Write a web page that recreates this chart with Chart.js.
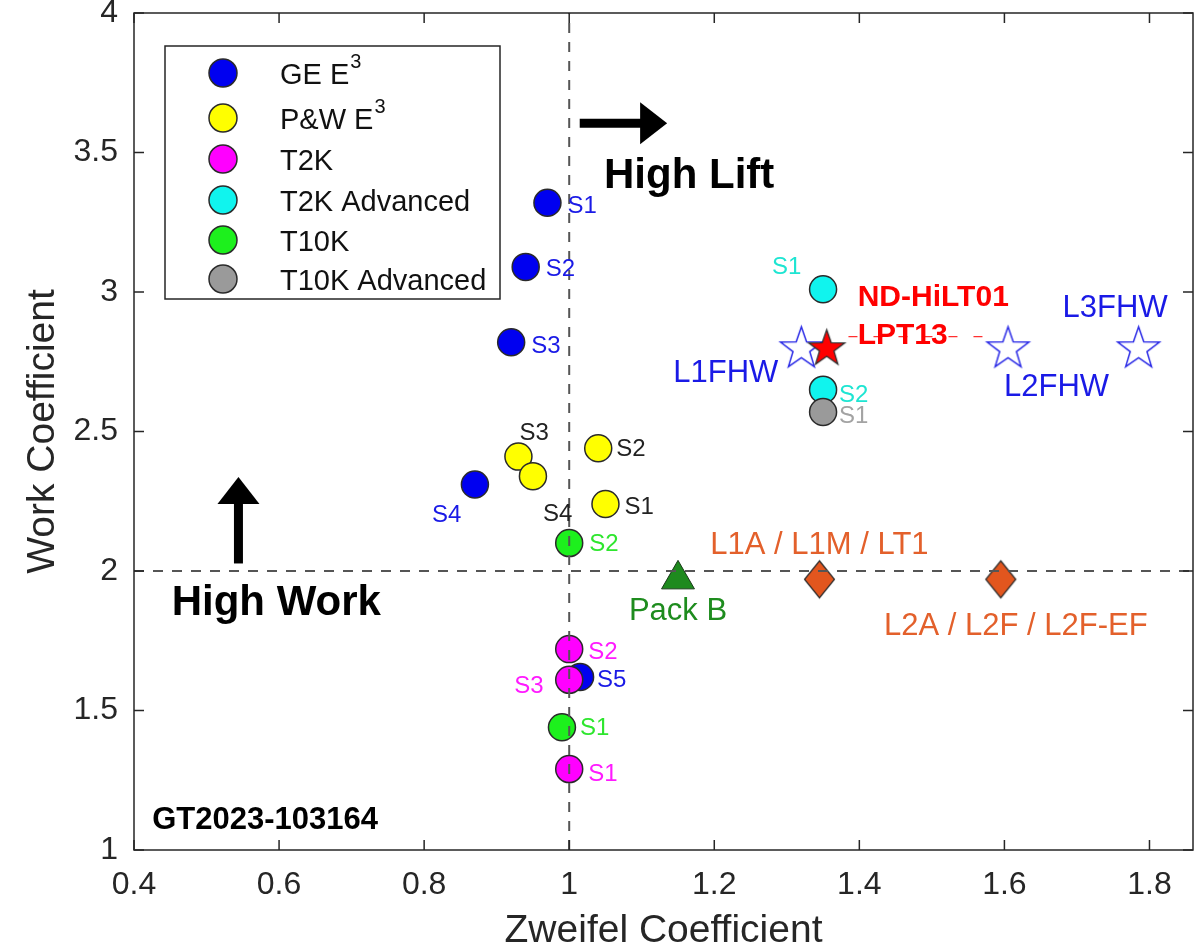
<!DOCTYPE html>
<html><head><meta charset="utf-8">
<script src="https://cdn.jsdelivr.net/npm/chart.js@4"></script>
<style>html,body{margin:0;padding:0;background:#fff;}#wrap{width:1196px;height:951px;}</style>
</head><body><div id="wrap"><canvas id="c" width="1196" height="951"></canvas></div>
<script>
// ---------- axis ticks ----------
const xTicks = [0.4, 0.6, 0.8, 1.0, 1.2, 1.4, 1.6, 1.8];
const xTickLabels = ['0.4', '0.6', '0.8', '1', '1.2', '1.4', '1.6', '1.8'];
const yTicks = [1, 1.5, 2, 2.5, 3, 3.5, 4];
const yTickLabels = ['1', '1.5', '2', '2.5', '3', '3.5', '4'];
const xMin = 0.4, xMax = 1.86, yMin = 1, yMax = 4;
const xTitle = 'Zweifel Coefficient';
const yTitle = 'Work Coefficient';

// ---------- series ----------
const legendNames = ['GE E', 'P&W E', 'T2K', 'T2K Advanced', 'T10K', 'T10K Advanced'];
const legendSup = ['3', '3', '', '', '', ''];

const geX = [0.97, 0.94, 0.92, 0.87, 1.015];
const geY = [3.32, 3.09, 2.82, 2.31, 1.62];
const geTags = ['S1', 'S2', 'S3', 'S4', 'S5'];

const pwX = [1.05, 1.04, 0.93, 0.95];
const pwY = [2.24, 2.44, 2.41, 2.34];
const pwTags = ['S1', 'S2', 'S3', 'S4'];

const t2kX = [1.0, 1.0, 1.0];
const t2kY = [1.29, 1.72, 1.61];
const t2kTags = ['S1', 'S2', 'S3'];

const t2kAdvX = [1.35, 1.35];
const t2kAdvY = [3.01, 2.65];
const t2kAdvTags = ['S1', 'S2'];

const t10kX = [0.99, 1.0];
const t10kY = [1.44, 2.10];
const t10kTags = ['S1', 'S2'];

const t10kAdvX = [1.35];
const t10kAdvY = [2.57];
const t10kAdvTags = ['S1'];

const fhwX = [1.32, 1.605, 1.785];
const fhwY = [2.80, 2.80, 2.80];
const fhwTags = ['L1FHW', 'L2FHW', 'L3FHW'];

const hiltX = [1.355];
const hiltY = [2.80];
const hiltTags = ['ND-HiLT01', 'LPT13'];

const packX = [1.15];
const packY = [1.97];
const packTags = ['Pack B'];

const lptX = [1.345, 1.595];
const lptY = [1.97, 1.97];
const lptTags = ['L1A / L1M / LT1', 'L2A / L2F / L2F-EF'];

const refX = 1.0;   // vertical dashed reference
const refY = 2.0;   // horizontal dashed reference
const redDashX = [1.385, 1.58];
const redDashY = [2.84, 2.84];

// ---------- helpers ----------
const pts = (xs, ys) => xs.map((x, i) => ({x: x, y: ys[i]}));

function starCanvas(R, fill, stroke, lw) {
  const s = Math.ceil(2 * R + 2 * lw + 4);
  const c = document.createElement('canvas');
  c.width = s; c.height = s;
  const g = c.getContext('2d');
  const cx = s / 2, cy = s / 2 + R * 0.05, r = R * 0.40;
  g.beginPath();
  for (let i = 0; i < 10; i++) {
    const rr = i % 2 ? r : R;
    const a = -Math.PI / 2 + i * Math.PI / 5;
    g.lineTo(cx + rr * Math.cos(a), cy + rr * Math.sin(a));
  }
  g.closePath();
  if (fill) { g.fillStyle = fill; g.fill(); }
  g.lineJoin = 'miter';
  g.strokeStyle = stroke; g.lineWidth = lw; g.stroke();
  return c;
}
function diamondCanvas(w, h, fill, stroke, lw) {
  const c = document.createElement('canvas');
  c.width = Math.ceil(w + lw * 2 + 2); c.height = Math.ceil(h + lw * 2 + 2);
  const g = c.getContext('2d');
  const cx = c.width / 2, cy = c.height / 2;
  g.beginPath();
  g.moveTo(cx, cy - h / 2); g.lineTo(cx + w / 2, cy); g.lineTo(cx, cy + h / 2); g.lineTo(cx - w / 2, cy);
  g.closePath();
  g.fillStyle = fill; g.fill();
  g.strokeStyle = stroke; g.lineWidth = lw; g.stroke();
  return c;
}

const FONT = "'Liberation Sans', Arial, sans-serif";
const circ = (data, color, order, tags, tagColor, tagStyle) => ({
  data: data, order: order, pointStyle: 'circle', pointRadius: 13.5,
  backgroundColor: color, borderColor: '#2a2a2a', borderWidth: 1.5, showLine: false,
  tags: tags, tagColor: tagColor, tagFont: '24px ' + FONT, tagStyle: tagStyle
});

const datasets = [
  // dashed reference lines (on top of markers)
  {data: [{x: refX, y: yMin}, {x: refX, y: yMax}], showLine: true, pointRadius: 0, borderColor: '#555555', borderWidth: 2, borderDash: [10, 9], order: 0},
  {data: [{x: xMin, y: refY}, {x: xMax, y: refY}], showLine: true, pointRadius: 0, borderColor: '#555555', borderWidth: 2, borderDash: [10, 9], order: 0},
  {data: pts(redDashX, redDashY), showLine: true, pointRadius: 0, borderColor: '#ff3030', borderWidth: 1.2, borderDash: [9, 16], order: 0},
  circ(pts(t10kAdvX, t10kAdvY), '#9a9a9a', 1, t10kAdvTags, '#a3a3a3', [{dx: 16, dy: 4}]),
  circ(pts(t10kX, t10kY), '#1df01d', 2, t10kTags, '#2ee62e', [{dx: 18, dy: 1}, {dx: 20, dy: 1}]),
  circ(pts(t2kAdvX, t2kAdvY), '#10f4ee', 3, t2kAdvTags, '#1ee5d2', [{dx: -51, dy: -22}, {dx: 16, dy: 6}]),
  circ(pts(t2kX, t2kY), '#ff00ff', 4, t2kTags, '#ff1aff', [{dx: 19, dy: 5}, {dx: 19, dy: 3}, {dx: -55, dy: 7}]),
  circ(pts(pwX, pwY), '#ffff00', 5, pwTags, '#222222', [{dx: 19, dy: 3}, {dx: 18, dy: 1}, {dx: 1, dy: -23}, {dx: 10, dy: 38}]),
  circ(pts(geX, geY), '#0000f0', 6, geTags, '#1a1ae6', [{dx: 20, dy: 4}, {dx: 20, dy: 2}, {dx: 20, dy: 4}, {dx: -43, dy: 31}, {dx: 17, dy: 3}]),
  {data: pts(hiltX, hiltY), order: 0.5, pointStyle: starCanvas(19, '#ff0000', '#303030', 1.3), pointRadius: 20, showLine: false,
   tags: hiltTags, tagColor: '#ff0000', tagFont: 'bold 30px ' + FONT, tagStyle: [{dx: 31, dy: -50}, {dx: 31, dy: -12}]},
  {data: pts(fhwX, fhwY), order: 7, pointStyle: starCanvas(22, null, '#2a2ae6', 1.5), pointRadius: 22, showLine: false,
   tags: fhwTags, tagColor: '#1a1ae6', tagFont: '31px ' + FONT, tagStyle: [{dx: -128, dy: 26}, {dx: -4, dy: 40}, {dx: -76, dy: -39}]},
  {data: pts(packX, packY), order: 1, pointStyle: 'triangle', pointRadius: 19, backgroundColor: '#1e8a1e', borderColor: '#1a3a1a', borderWidth: 1, showLine: false,
   tags: packTags, tagColor: '#1e8c1e', tagFont: '31px ' + FONT, tagStyle: [{dx: 0, dy: 32, align: 'center'}]},
  {data: pts(lptX, lptY), order: 1, pointStyle: diamondCanvas(30, 37, '#e2561e', '#2a2a2a', 1.2), pointRadius: 18, showLine: false,
   tags: lptTags, tagColor: '#e3602b', tagFont: '31px ' + FONT, tagStyle: [{dx: 0, dy: -34, align: 'center'}, {dx: 15, dy: 47, align: 'center'}]}
];

// free annotations (data coordinates)
const notes = [
  {text: 'High Lift', x: 1.048, y: 3.374, font: 'bold 42px ' + FONT},
  {text: 'High Work', x: 0.452, y: 1.843, font: 'bold 42px ' + FONT},
  {text: 'GT2023-103164', x: 0.425, y: 1.074, font: 'bold 31px ' + FONT}
];
const arrows = [
  {x0: 1.0145, y0: 3.605, x1: 1.135, y1: 3.605},
  {x0: 0.544, y0: 2.027, x1: 0.544, y1: 2.337}
];

const decor = {
  id: 'decor',
  afterDatasetsDraw(chart) {
    const ctx = chart.ctx, xs = chart.scales.x, ys = chart.scales.y, a = chart.chartArea;
    // point tags
    chart.data.datasets.forEach((ds, di) => {
      if (!ds.tags) return;
      const meta = chart.getDatasetMeta(di);
      ds.tags.forEach((t, k) => {
        const p = meta.data[Math.min(k, meta.data.length - 1)];
        const o = ds.tagStyle[k];
        ctx.save();
        ctx.font = ds.tagFont; ctx.fillStyle = ds.tagColor;
        ctx.textAlign = o.align || 'left'; ctx.textBaseline = 'middle';
        ctx.fillText(t, p.x + o.dx, p.y + o.dy);
        ctx.restore();
      });
    });
    // annotations
    notes.forEach(n => {
      ctx.save(); ctx.font = n.font; ctx.fillStyle = '#000'; ctx.textAlign = 'left'; ctx.textBaseline = 'alphabetic';
      ctx.fillText(n.text, xs.getPixelForValue(n.x), ys.getPixelForValue(n.y)); ctx.restore();
    });
    arrows.forEach(r => {
      const x0 = xs.getPixelForValue(r.x0), y0 = ys.getPixelForValue(r.y0);
      const x1 = xs.getPixelForValue(r.x1), y1 = ys.getPixelForValue(r.y1);
      const ang = Math.atan2(y1 - y0, x1 - x0), hl = 27, hw = 21;
      const bx = x1 - hl * Math.cos(ang), by = y1 - hl * Math.sin(ang);
      ctx.save(); ctx.strokeStyle = '#000'; ctx.fillStyle = '#000'; ctx.lineWidth = 9;
      ctx.beginPath(); ctx.moveTo(x0, y0); ctx.lineTo(bx + 2 * Math.cos(ang), by + 2 * Math.sin(ang)); ctx.stroke();
      ctx.beginPath(); ctx.moveTo(x1, y1);
      ctx.lineTo(bx + hw * Math.sin(ang), by - hw * Math.cos(ang));
      ctx.lineTo(bx - hw * Math.sin(ang), by + hw * Math.cos(ang));
      ctx.closePath(); ctx.fill(); ctx.restore();
    });
    // frame + inward ticks
    ctx.save();
    ctx.strokeStyle = '#262626'; ctx.lineWidth = 1.5;
    ctx.strokeRect(a.left, a.top, a.right - a.left, a.bottom - a.top);
    ctx.beginPath();
    xTicks.forEach(v => { const p = xs.getPixelForValue(v);
      ctx.moveTo(p, a.bottom); ctx.lineTo(p, a.bottom - 10); ctx.moveTo(p, a.top); ctx.lineTo(p, a.top + 10); });
    yTicks.forEach(v => { const p = ys.getPixelForValue(v);
      ctx.moveTo(a.left, p); ctx.lineTo(a.left + 10, p); ctx.moveTo(a.right, p); ctx.lineTo(a.right - 10, p); });
    ctx.stroke();
    ctx.restore();
  },
  afterDraw(chart) {
    // legend box
    const ctx = chart.ctx, a = chart.chartArea;
    const L = a.left + 31, T = a.top + 33, W = 335, H = 253;
    const colors = ['#0000f0', '#ffff00', '#ff00ff', '#10f4ee', '#1df01d', '#9a9a9a'];
    const rows = [73, 118, 159, 200, 240, 279].map(v => v - 46);
    ctx.save();
    ctx.fillStyle = '#fff'; ctx.fillRect(L, T, W, H);
    ctx.strokeStyle = '#262626'; ctx.lineWidth = 1.5; ctx.strokeRect(L, T, W, H);
    legendNames.forEach((n, i) => {
      const cy = T + rows[i];
      ctx.beginPath(); ctx.arc(L + 58, cy, 14, 0, Math.PI * 2);
      ctx.fillStyle = colors[i]; ctx.fill(); ctx.strokeStyle = '#2a2a2a'; ctx.lineWidth = 1.5; ctx.stroke();
      ctx.fillStyle = '#111'; ctx.font = '29px ' + FONT; ctx.textAlign = 'left'; ctx.textBaseline = 'middle';
      ctx.fillText(n, L + 115, cy + 3);
      if (legendSup[i]) {
        const w = ctx.measureText(n).width;
        ctx.font = '20px ' + FONT;
        ctx.fillText(legendSup[i], L + 116 + w, cy - 11);
      }
    });
    ctx.restore();
  }
};

new Chart(document.getElementById('c'), {
  type: 'scatter',
  data: {datasets: datasets},
  options: {
    responsive: false, animation: false, devicePixelRatio: 1, events: [],
    layout: {autoPadding: false, padding: {top: 13, right: 3, left: 0, bottom: 0}},
    plugins: {legend: {display: false}, tooltip: {enabled: false}},
    scales: {
      x: {
        type: 'linear', min: xMin, max: xMax,
        afterBuildTicks: s => { s.ticks = xTicks.map(v => ({value: v})); },
        afterFit: s => { s.height = 101; s.paddingLeft = 0; s.paddingRight = 0; },
        ticks: {autoSkip: false, maxRotation: 0, padding: 16, color: '#262626', font: {family: FONT, size: 32},
          callback: (v, i) => xTickLabels[i]},
        grid: {display: false, drawTicks: false}, border: {display: false},
        title: {display: true, text: xTitle, color: '#262626', font: {family: FONT, size: 39, lineHeight: 1}, padding: {top: 0, bottom: 0}}
      },
      y: {
        type: 'linear', min: yMin, max: yMax,
        afterBuildTicks: s => { s.ticks = yTicks.map(v => ({value: v})); },
        afterFit: s => { s.width = 134; s.paddingTop = 0; s.paddingBottom = 0; },
        ticks: {autoSkip: false, padding: 16, color: '#262626', font: {family: FONT, size: 32},
          callback: (v, i) => yTickLabels[i]},
        grid: {display: false, drawTicks: false}, border: {display: false},
        title: {display: true, text: yTitle, color: '#262626', font: {family: FONT, size: 39, lineHeight: 1.2}, padding: {top: 20, bottom: 0}}
      }
    }
  },
  plugins: [decor]
});
</script></body></html>
